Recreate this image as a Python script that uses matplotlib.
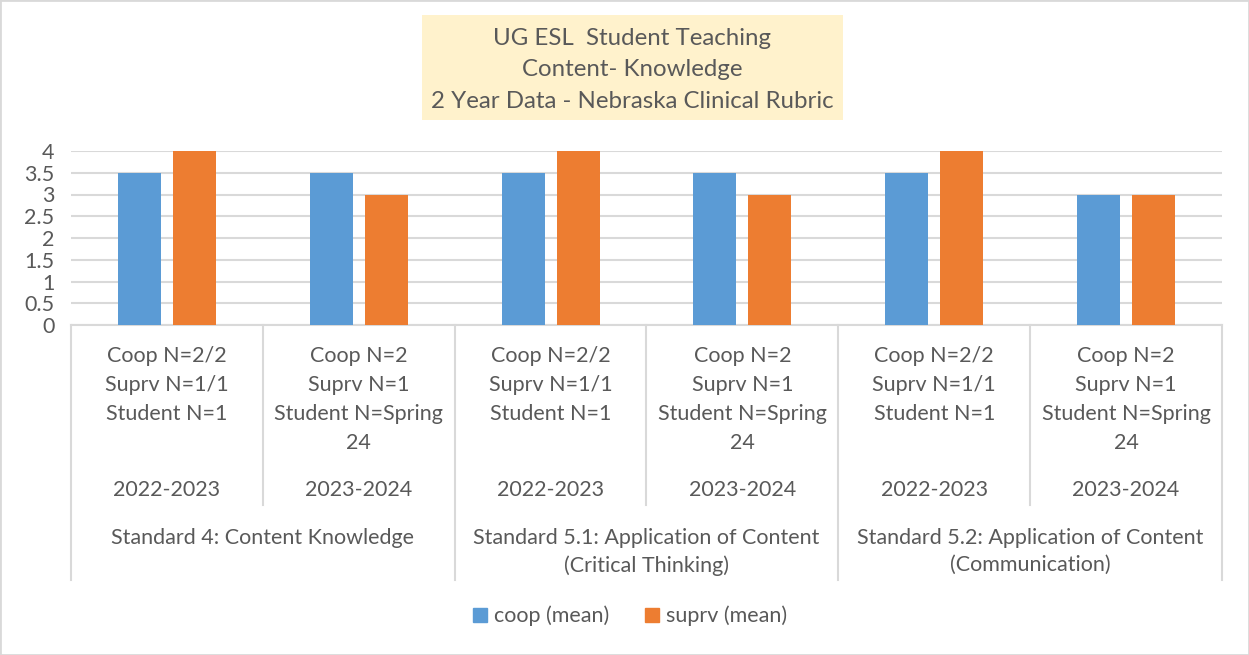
import matplotlib.pyplot as plt
from matplotlib.patches import Patch, Rectangle
from matplotlib.lines import Line2D
from matplotlib.transforms import blended_transform_factory

plt.rcParams["font.family"] = ["Lato", "DejaVu Sans"]

TEXT = "#595959"
GRID = "#d9d9d9"
BLUE = "#5B9BD5"
ORANGE = "#ED7D31"

title = "UG ESL  Student Teaching\nContent- Knowledge\n2 Year Data - Nebraska Clinical Rubric"
cat_labels = [
    "Coop N=2/2\nSuprv N=1/1\nStudent N=1",
    "Coop N=2\nSuprv N=1\nStudent N=Spring\n24",
    "Coop N=2/2\nSuprv N=1/1\nStudent N=1",
    "Coop N=2\nSuprv N=1\nStudent N=Spring\n24",
    "Coop N=2/2\nSuprv N=1/1\nStudent N=1",
    "Coop N=2\nSuprv N=1\nStudent N=Spring\n24",
]
years = ["2022-2023", "2023-2024", "2022-2023", "2023-2024", "2022-2023", "2023-2024"]
standards = [
    "Standard 4: Content Knowledge",
    "Standard 5.1: Application of Content\n(Critical Thinking)",
    "Standard 5.2: Application of Content\n(Communication)",
]
coop = [3.5, 3.5, 3.5, 3.5, 3.5, 3.0]
suprv = [4, 3, 4, 3, 4, 3]

W, H = 1249, 655
fig = plt.figure(figsize=(W / 100, H / 100), dpi=100)
fig.patches.append(Rectangle((0, 0), 1, 1, transform=fig.transFigure,
                             fill=False, edgecolor=GRID, linewidth=2))


def fy(px):
    return 1 - px / H


left, right, top, bottom = 71, 1222, 151, 325
ax = fig.add_axes([left / W, fy(bottom), (right - left) / W, (bottom - top) / H])

x = list(range(len(coop)))
bw = 0.224
off = 0.143
ax.bar([i - off for i in x], coop, width=bw, color=BLUE, zorder=3)
ax.bar([i + off for i in x], suprv, width=bw, color=ORANGE, zorder=3)

ax.set_xlim(-0.5, len(coop) - 0.5)
ax.set_ylim(0, 4)
ax.set_yticks([i * 0.5 for i in range(9)])
ax.set_yticklabels(["0", "0.5", "1", "1.5", "2", "2.5", "3", "3.5", "4"])
ax.tick_params(axis="y", length=0, labelsize=15.5, labelcolor=TEXT, pad=12)
ax.set_xticks([])
for s in ["top", "left", "right"]:
    ax.spines[s].set_visible(False)
ax.spines["bottom"].set_color(GRID)
ax.spines["bottom"].set_linewidth(1.5)
ax.grid(axis="y", color=GRID, linewidth=1.5, zorder=0)
ax.set_axisbelow(True)

tr = blended_transform_factory(ax.transData, fig.transFigure)

# category tiers
for i in x:
    fig.text(i, fy(346), cat_labels[i], transform=tr, ha="center", va="top",
             fontsize=15.5, color=TEXT, linespacing=1.56)
    fig.text(i, fy(490), years[i], transform=tr, ha="center", va="center",
             fontsize=15.5, color=TEXT)
for g, lab in enumerate(standards):
    fig.text(2 * g + 0.5, fy(528), lab, transform=tr, ha="center", va="top",
             fontsize=15.5, color=TEXT, linespacing=1.42)

# divider lines
for b in range(len(coop) + 1):
    xb = b - 0.5
    y_end = 580 if b % 2 == 0 else 505
    fig.add_artist(Line2D([xb, xb], [fy(bottom), fy(y_end)], transform=tr,
                          color=GRID, linewidth=1.5))

# title box
fig.patches.append(Rectangle((422 / W, fy(120)), (843 - 422) / W, (120 - 15) / H,
                             transform=fig.transFigure, facecolor="#FFF2CC",
                             edgecolor="none"))
fig.text(632 / W, fy(70), title, ha="center", va="center", fontsize=17.3,
         color=TEXT, linespacing=1.62)

handles = [Patch(color=BLUE), Patch(color=ORANGE)]
fig.legend(handles, ["coop (mean)", "suprv (mean)"], loc="center",
           bbox_to_anchor=(630 / W, fy(616)), ncol=2, frameon=False,
           fontsize=15.5, labelcolor=TEXT, handlelength=0.65, handleheight=0.65,
           handletextpad=0.3, columnspacing=1.7)

fig.savefig("out.png", dpi=100)
